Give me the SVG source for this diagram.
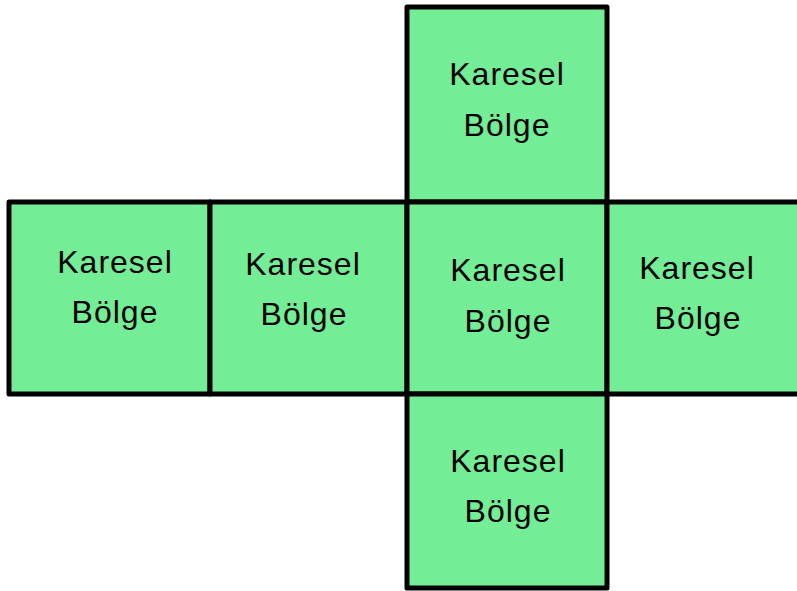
<svg xmlns="http://www.w3.org/2000/svg" width="797" height="591" viewBox="0 0 797 591">
<style>
.sq{fill:#74ee96;stroke:#000;stroke-width:5;stroke-linejoin:round}
.t{font-family:"Liberation Sans",Arial,sans-serif;font-size:32px;fill:#000;text-anchor:middle;dominant-baseline:central;letter-spacing:1px}
</style>
<rect width="797" height="591" fill="#fff"/>
<g id="top">
<rect class="sq" x="407" y="7" width="200" height="195"/>
<text class="t" x="507" y="74">Karesel</text>
<text class="t" x="507" y="125">Bölge</text>
</g>
<g id="left1">
<rect class="sq" x="9" y="202" width="201" height="192"/>
<text class="t" x="115" y="262">Karesel</text>
<text class="t" x="115" y="312">Bölge</text>
</g>
<g id="left2">
<rect class="sq" x="210" y="202" width="197" height="192"/>
<text class="t" x="303" y="264">Karesel</text>
<text class="t" x="304" y="314">Bölge</text>
</g>
<g id="center">
<rect class="sq" x="407" y="202" width="200" height="192"/>
<text class="t" x="508" y="270">Karesel</text>
<text class="t" x="508" y="321">Bölge</text>
</g>
<g id="right">
<rect class="sq" x="607" y="202" width="200" height="192"/>
<text class="t" x="697" y="268">Karesel</text>
<text class="t" x="698" y="318">Bölge</text>
</g>
<g id="bottom">
<rect class="sq" x="407" y="394" width="200" height="194"/>
<text class="t" x="508" y="461">Karesel</text>
<text class="t" x="508" y="511">Bölge</text>
</g>
<g id="connectors"></g>
</svg>
